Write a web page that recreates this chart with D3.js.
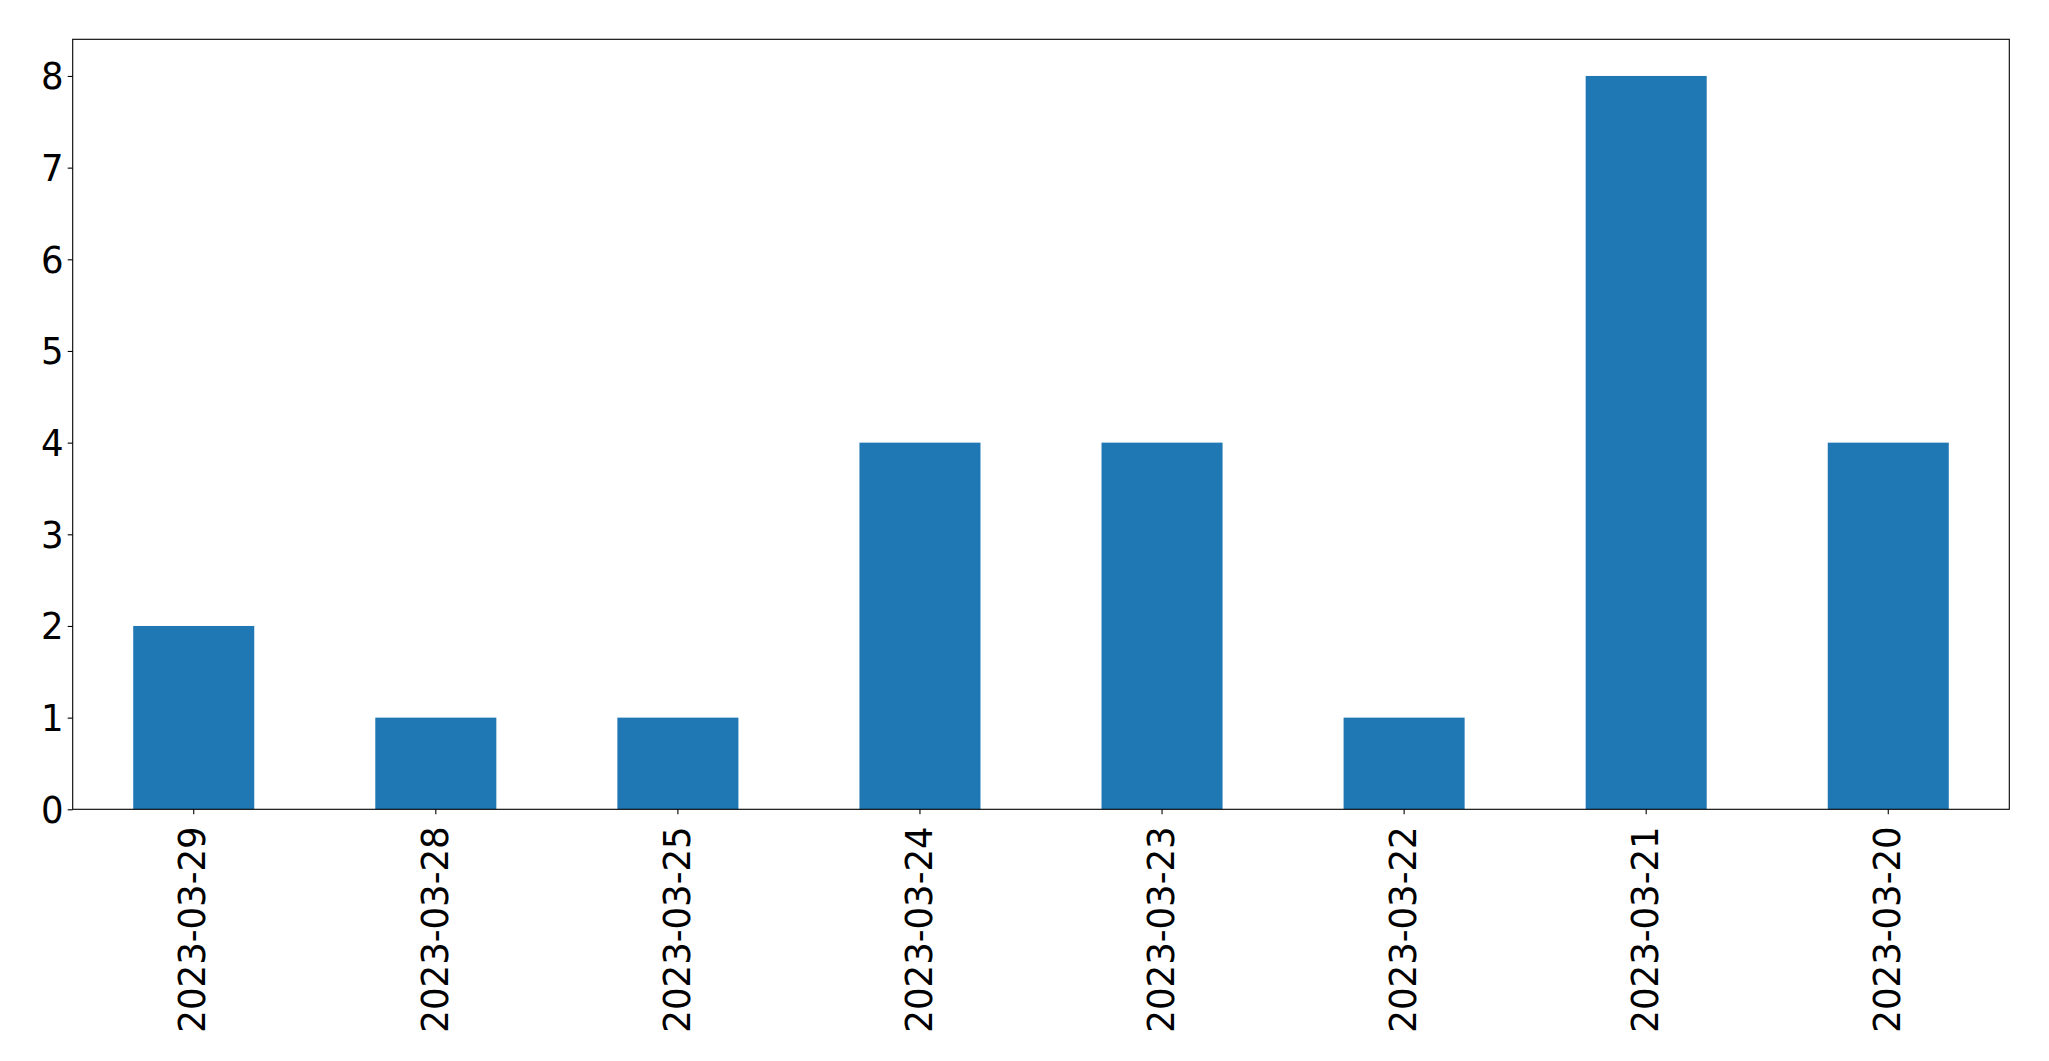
<!DOCTYPE html>
<html>
<head>
<meta charset="utf-8">
<script src="https://cdn.jsdelivr.net/npm/d3@7"></script>
<style>
html,body{margin:0;padding:0;background:#fff;}
svg{display:block;}
text{font-family:"DejaVu Sans",sans-serif;fill:#000;}
</style>
</head>
<body>
<svg id="chart" width="2049" height="1061"></svg>
<script>
const categories = ["2023-03-29","2023-03-28","2023-03-25","2023-03-24","2023-03-23","2023-03-22","2023-03-21","2023-03-20"];
const values = [2,1,1,4,4,1,8,4];
const yTicks = [0,1,2,3,4,5,6,7,8];

const W = 2049, H = 1061;
const m = {left:72.7, right:W-2009.3, top:39.3, bottom:H-809.3};
const svg = d3.select("#chart");

const x = d3.scaleBand().domain(categories)
  .range([m.left, W - m.right]).paddingInner(0.5).paddingOuter(0.25);
const y = d3.scaleLinear().domain([0, 8.4]).range([H - m.bottom, m.top]);

svg.append("g").selectAll("rect").data(values).join("rect")
  .attr("x", (d,i) => x(categories[i]))
  .attr("width", x.bandwidth())
  .attr("y", d => y(d))
  .attr("height", d => y(0) - y(d))
  .attr("fill", "#1f77b4");

const fs = 37;
// y axis
const ya = svg.append("g").attr("transform", `translate(${m.left},0)`)
  .call(d3.axisLeft(y).tickValues(yTicks).tickFormat(d3.format("d")).tickSize(5).tickPadding(0));
ya.select(".domain").remove();
ya.selectAll("line").attr("stroke","#000").attr("stroke-width",1.1);
ya.selectAll("text").attr("font-size", fs).attr("font-family","DejaVu Sans")
  .attr("x", 0).attr("dy","0.35em")
  .attr("transform","translate(-9,0) scale(0.96,1)");

// x axis
const xa = svg.append("g").attr("transform", `translate(0,${H - m.bottom})`)
  .call(d3.axisBottom(x).tickSize(5).tickPadding(0));
xa.select(".domain").remove();
xa.selectAll("line").attr("stroke","#000").attr("stroke-width",1.1);
xa.selectAll("text")
  .attr("font-size", fs).attr("font-family","DejaVu Sans")
  .attr("text-anchor","end")
  .attr("dominant-baseline","central")
  .attr("dy", null)
  .attr("y", 0)
  .attr("transform", "translate(-1,17) rotate(-90) scale(0.96,1)");

// frame
svg.append("rect")
  .attr("x", m.left).attr("y", m.top)
  .attr("width", W - m.right - m.left).attr("height", H - m.bottom - m.top)
  .attr("fill","none").attr("stroke","#000").attr("stroke-width",1.1);
</script>
</body>
</html>
